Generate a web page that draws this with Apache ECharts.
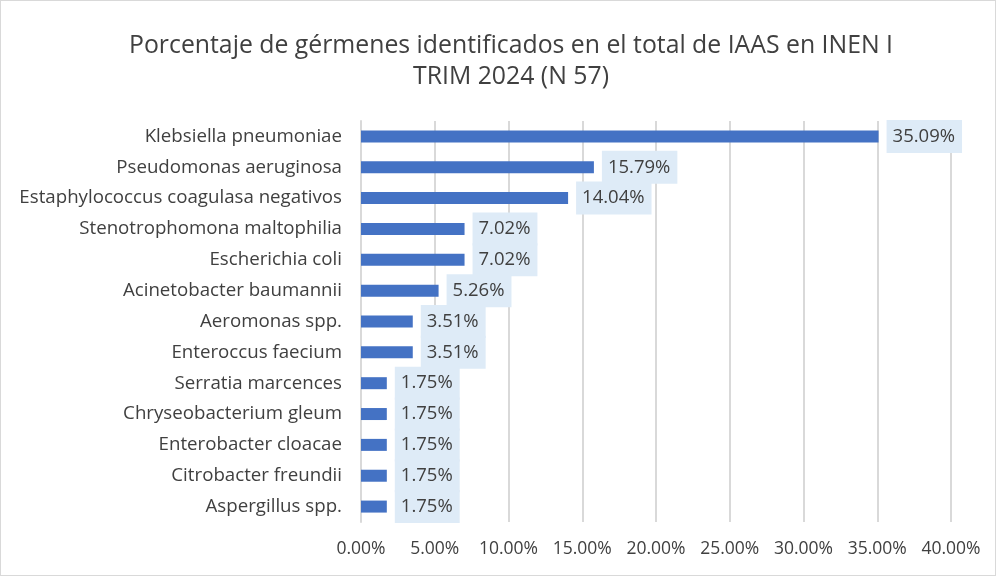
<!DOCTYPE html>
<html>
<head>
<meta charset="utf-8">
<script src="https://cdn.jsdelivr.net/npm/echarts@6/dist/echarts.min.js"></script>
<style>
  html, body { margin: 0; padding: 0; background: #fff; }
  #main { width: 996px; height: 576px; box-sizing: border-box; border: 1px solid #d9d9d9; }
</style>
</head>
<body>
<div id="main"></div>
<script>
// datos del grafico
var germenes = [
  'Klebsiella pneumoniae',
  'Pseudomonas aeruginosa',
  'Estaphylococcus coagulasa negativos',
  'Stenotrophomona maltophilia',
  'Escherichia coli',
  'Acinetobacter baumannii',
  'Aeromonas spp.',
  'Enteroccus faecium',
  'Serratia marcences',
  'Chryseobacterium gleum',
  'Enterobacter cloacae',
  'Citrobacter freundii',
  'Aspergillus spp.'
];
var porcentajes = [35.09, 15.79, 14.04, 7.02, 7.02, 5.26, 3.51, 3.51, 1.75, 1.75, 1.75, 1.75, 1.75];
var ejeMin = 0;
var ejeMax = 40;
var ejePaso = 5;

var myChart = echarts.init(document.getElementById('main'));

var fuente = 'Open Sans';

var option = {
  animation: false,
  title: {
    text: 'Porcentaje de gérmenes identificados en el total de IAAS en INEN I\nTRIM 2024 (N 57)',
    left: 505,
    textAlign: 'center',
    top: 24,
    textStyle: {
      fontFamily: fuente,
      fontSize: 24.8,
      fontWeight: 'normal',
      color: '#404040',
      lineHeight: 31
    }
  },
  grid: {
    left: 360,
    right: 44,
    top: 120,
    bottom: 53
  },
  xAxis: {
    type: 'value',
    min: ejeMin,
    max: ejeMax,
    interval: ejePaso,
    axisLine: { show: false },
    axisTick: { show: false },
    splitLine: { lineStyle: { color: '#d9d9d9', width: 2 } },
    axisLabel: {
      margin: 18,
      fontFamily: fuente,
      fontSize: 17.5,
      color: '#404040',
      formatter: function (v) { return v.toFixed(2) + '%'; }
    }
  },
  yAxis: {
    type: 'category',
    inverse: true,
    data: germenes,
    axisLine: { show: true, lineStyle: { color: '#d9d9d9', width: 2 } },
    axisTick: { show: false },
    axisLabel: {
      margin: 19,
      fontFamily: fuente,
      fontSize: 18.7,
      color: '#404040'
    }
  },
  series: [{
    type: 'bar',
    data: porcentajes,
    barWidth: 12,
    itemStyle: { color: '#4472c4' },
    label: {
      show: true,
      position: 'right',
      distance: 8,
      fontFamily: fuente,
      fontSize: 18.5,
      color: '#404040',
      backgroundColor: '#deebf7',
      padding: [7, 7, 7, 6],
      formatter: function (p) { return p.value.toFixed(2) + '%'; }
    }
  }]
};

myChart.setOption(option);
</script>
</body>
</html>
